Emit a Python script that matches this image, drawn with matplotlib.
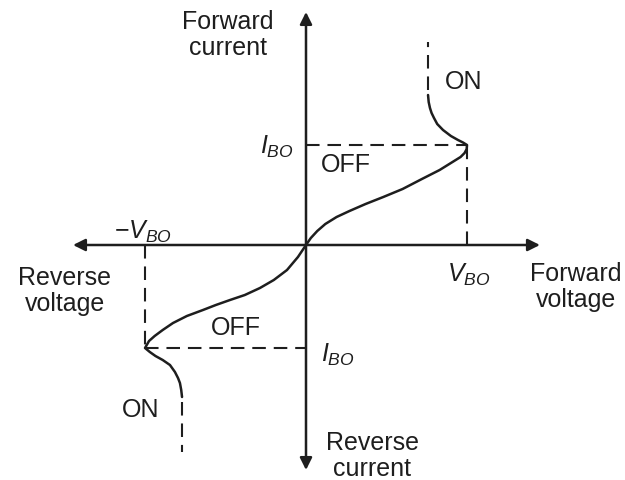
import matplotlib
matplotlib.use("Agg")
import matplotlib.pyplot as plt

plt.rcParams['font.family'] = 'Liberation Sans'
plt.rcParams['mathtext.fontset'] = 'custom'
plt.rcParams['mathtext.rm'] = 'Liberation Sans'
plt.rcParams['mathtext.it'] = 'Liberation Sans:italic'

# breakover values (normalised)
V_BO = 1.0
I_BO = 1.0
V_BO_REV = -1.0
I_BO_REV = -1.03

# forward branch: OFF region up to breakover, then ON region
fwd_v = [0.0, 0.03, 0.07, 0.12, 0.19, 0.27, 0.37, 0.48, 0.60, 0.72, 0.83, 0.92,
         0.96, 0.985, 0.998, 1.0, 0.975, 0.944, 0.90, 0.851, 0.815, 0.795,
         0.78, 0.77, 0.762, 0.758]
fwd_i = [0.0, 0.07, 0.14, 0.21, 0.28, 0.34, 0.41, 0.48, 0.56, 0.66, 0.75, 0.84,
         0.88, 0.92, 0.96, 1.0, 1.025, 1.05, 1.09, 1.15, 1.21, 1.27,
         1.32, 1.37, 1.43, 1.50]
fwd_on_v = [0.758, 0.758]
fwd_on_i = [1.55, 2.03]

# reverse branch
rev_v = [0.0, -0.05, -0.118, -0.20, -0.286, -0.38, -0.472, -0.56, -0.64, -0.74,
         -0.826, -0.89, -0.94, -0.975, -1.0, -0.97, -0.935, -0.89, -0.845,
         -0.814, -0.795, -0.783, -0.775, -0.77]
rev_i = [0.0, -0.12, -0.25, -0.35, -0.43, -0.50, -0.55, -0.60, -0.65, -0.71,
         -0.78, -0.85, -0.91, -0.96, -1.03, -1.07, -1.11, -1.15, -1.20,
         -1.27, -1.33, -1.38, -1.45, -1.52]
rev_on_v = [-0.77, -0.77]
rev_on_i = [-1.57, -2.07]

fig = plt.figure(figsize=(6.25, 4.8), dpi=100)
ax = fig.add_axes([0, 0, 1, 1])
ax.set_xlim(-306 / 161, 319 / 161)
ax.set_ylim(-235 / 100, 245 / 100)
ax.axis('off')

ink = '#1e1e1e'

# axes with arrows at both ends
arrow = dict(arrowstyle='<|-|>', color=ink, lw=1.8,
             mutation_scale=18, shrinkA=0, shrinkB=0)
ax.annotate('', xy=(-1.447, 0), xytext=(1.453, 0), arrowprops=arrow)
ax.annotate('', xy=(0, -2.25), xytext=(0, 2.33), arrowprops=arrow)

dash = dict(color=ink, lw=1.5, dashes=(6.5, 3.8))
ax.plot([0, V_BO], [I_BO, I_BO], **dash)
ax.plot([V_BO, V_BO], [0, I_BO], **dash)
ax.plot([V_BO_REV, V_BO_REV], [0, I_BO_REV], **dash)
ax.plot([V_BO_REV, 0], [I_BO_REV, I_BO_REV], **dash)
ax.plot(fwd_on_v, fwd_on_i, **dash)
ax.plot(rev_on_v, rev_on_i, **dash)

ax.plot(fwd_v, fwd_i, color=ink, lw=1.8, solid_capstyle='round', solid_joinstyle='round')
ax.plot(rev_v, rev_i, color=ink, lw=1.8, solid_capstyle='round', solid_joinstyle='round')

fs = 18
txt = dict(fontsize=fs, color=ink, ha='center', va='center', linespacing=1.15)
ax.text(-0.484, 2.10, 'Forward\ncurrent', **txt)
ax.text(0.41, -2.11, 'Reverse\ncurrent', **txt)
ax.text(-1.497, -0.46, 'Reverse\nvoltage', **txt)
ax.text(1.677, -0.42, 'Forward\nvoltage', **txt)
ax.text(-0.18, 0.98, r'$I_{BO}$', **txt)
ax.text(0.2, -1.10, r'$I_{BO}$', **txt)
ax.text(1.012, -0.30, r'$V_{BO}$', **txt)
ax.text(-1.01, 0.13, r'$-V_{BO}$', **txt)
ax.text(0.98, 1.63, 'ON', **txt)
ax.text(0.248, 0.80, 'OFF', **txt)
ax.text(-0.435, -0.83, 'OFF', **txt)
ax.text(-1.025, -1.65, 'ON', **txt)

fig.savefig('out.png', dpi=100)
